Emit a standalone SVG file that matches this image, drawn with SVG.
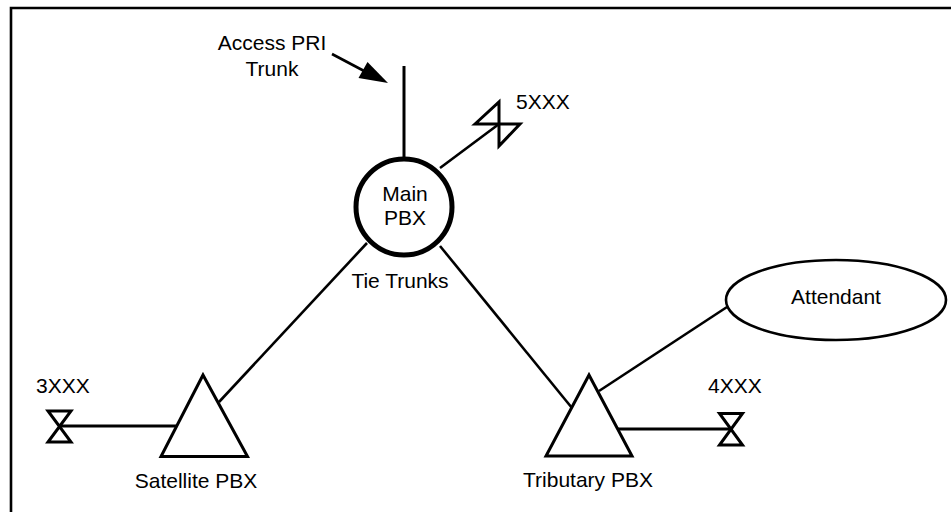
<svg xmlns="http://www.w3.org/2000/svg" width="951" height="512" viewBox="0 0 951 512">
<style>
text{font-family:"Liberation Sans",Arial,sans-serif;font-size:21px;fill:#000}
.c{text-anchor:middle}
.ln{stroke:#000;stroke-width:2.6;fill:none}
.sh{stroke:#000;stroke-width:3;fill:#fff}
.hg{stroke:#000;stroke-width:3;fill:none;stroke-linejoin:miter}
</style>
<rect width="951" height="512" fill="#fff"/>
<path d="M11,512 V8 H951" fill="none" stroke="#000" stroke-width="2.6"/>
<g id="connectors">
<line class="ln" x1="404" y1="66" x2="404" y2="160" style="stroke-width:3"/>
<line class="ln" x1="332" y1="54" x2="366" y2="72"/>
<polygon points="388,83 358.5,78 367.5,62" fill="#000"/>
<line class="ln" x1="440" y1="168" x2="499" y2="124"/>
<line class="ln" x1="367" y1="243" x2="219" y2="402"/>
<line class="ln" x1="440" y1="246" x2="572" y2="408"/>
<line class="ln" x1="599" y1="391" x2="727" y2="307"/>
<line class="ln" x1="59" y1="426" x2="178" y2="426" style="stroke-width:3"/>
<line class="ln" x1="617" y1="429" x2="731" y2="429" style="stroke-width:3"/>
</g>
<g id="main-pbx">
<circle cx="404" cy="207" r="48" fill="#fff" stroke="#000" stroke-width="5"/>
<text class="c" x="405" y="201">Main</text>
<text class="c" x="405" y="225">PBX</text>
</g>
<text id="tie-trunks" class="c" x="400" y="288">Tie Trunks</text>
<text id="access-label" class="c" x="272" y="50">Access PRI<tspan x="272" y="76">Trunk</tspan></text>
<g id="ext-5xxx">
<path class="hg" d="M475,124 L499,102 V146 L520,124 Z"/>
<text x="516" y="109">5XXX</text>
</g>
<g id="satellite-pbx">
<polygon class="sh" points="203,375 161,456.5 247.5,456.5"/>
<text class="c" x="196" y="488">Satellite PBX</text>
</g>
<g id="ext-3xxx">
<path class="hg" d="M48,411 H71 L48,442 H71 Z"/>
<text x="36" y="393">3XXX</text>
</g>
<g id="tributary-pbx">
<polygon class="sh" points="589,375 546,456 632,456"/>
<text class="c" x="588" y="487">Tributary PBX</text>
</g>
<g id="ext-4xxx">
<path class="hg" d="M719.5,413.5 H742.5 L719.5,445 H742.5 Z"/>
<text x="708" y="393">4XXX</text>
</g>
<g id="attendant">
<ellipse cx="836" cy="300" rx="110" ry="40" fill="#fff" stroke="#000" stroke-width="2.6"/>
<text class="c" x="836" y="304">Attendant</text>
</g>
</svg>
